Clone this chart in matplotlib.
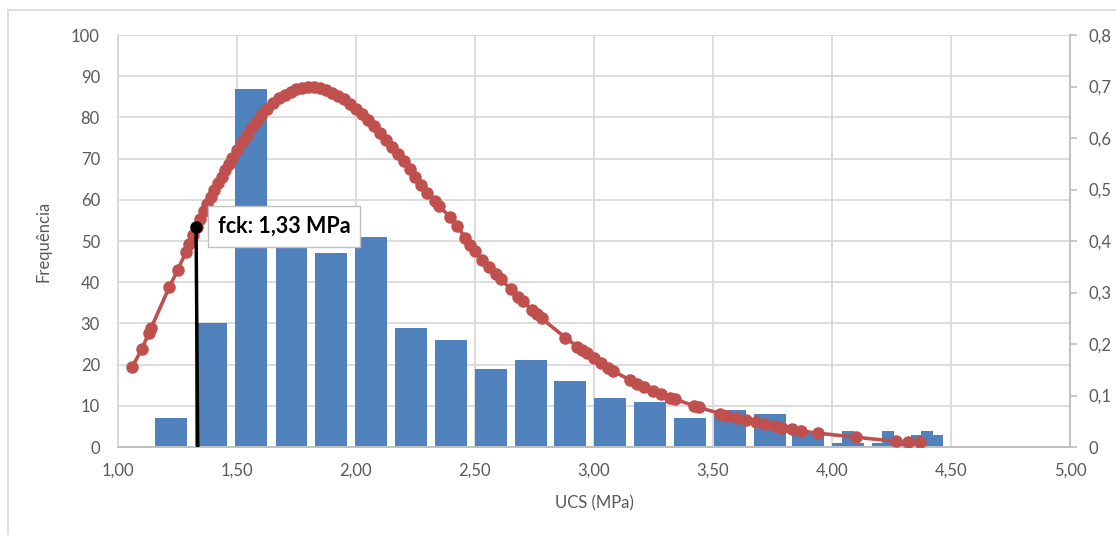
import numpy as np
import matplotlib
matplotlib.use("Agg")
import matplotlib.pyplot as plt
from matplotlib.lines import Line2D

plt.rcParams['font.family'] = ['Lato', 'DejaVu Sans']

# histograma (frequencia por classe de UCS)
bin_centers = [1.223, 1.391, 1.559, 1.729, 1.895, 2.063, 2.231, 2.399, 2.567, 2.735,
               2.901, 3.069, 3.237, 3.405, 3.573, 3.741, 3.901, 4.067, 4.235, 4.400]
freq = [7, 30, 87, 54, 47, 51, 29, 26, 19, 21, 16, 12, 11, 7, 9, 8, 4, 1, 1, 3]
extra_x = [4.068, 4.237, 4.400]
extra_freq = [4, 4, 4]

# densidade de probabilidade (eixo secundario)
pdf_x = [1.060, 1.100, 1.130, 1.140, 1.215, 1.250, 1.285, 1.300, 1.315, 1.330,
         1.345, 1.360, 1.375, 1.390, 1.405, 1.420, 1.435, 1.450, 1.465, 1.480,
         1.500, 1.520, 1.540, 1.560, 1.580, 1.600, 1.625, 1.650, 1.675, 1.700,
         1.725, 1.750, 1.775, 1.800, 1.825, 1.850, 1.875, 1.900, 1.925, 1.950,
         1.975, 2.000, 2.025, 2.050, 2.075, 2.100, 2.125, 2.150, 2.175, 2.200,
         2.225, 2.250, 2.275, 2.300, 2.330, 2.350, 2.395, 2.425, 2.460, 2.480,
         2.500, 2.530, 2.560, 2.590, 2.610, 2.650, 2.680, 2.700, 2.740, 2.760,
         2.780, 2.880, 2.930, 2.950, 2.970, 3.000, 3.030, 3.060, 3.080, 3.150,
         3.180, 3.210, 3.250, 3.280, 3.320, 3.340, 3.420, 3.440, 3.530, 3.560,
         3.600, 3.640, 3.680, 3.720, 3.760, 3.790, 3.830, 3.870, 3.940, 4.100,
         4.270, 4.320, 4.370]
pdf_y = [0.156, 0.190, 0.222, 0.232, 0.310, 0.343, 0.378, 0.395, 0.412, 0.428,
         0.443, 0.458, 0.472, 0.486, 0.499, 0.512, 0.525, 0.538, 0.550, 0.562,
         0.577, 0.592, 0.606, 0.619, 0.632, 0.644, 0.656, 0.667, 0.677, 0.684,
         0.690, 0.695, 0.698, 0.699, 0.699, 0.697, 0.693, 0.688, 0.682, 0.675,
         0.666, 0.657, 0.646, 0.635, 0.623, 0.610, 0.597, 0.583, 0.569, 0.555,
         0.540, 0.524, 0.509, 0.494, 0.477, 0.467, 0.447, 0.430, 0.405, 0.393,
         0.380, 0.364, 0.350, 0.336, 0.326, 0.306, 0.292, 0.283, 0.266, 0.258,
         0.250, 0.212, 0.195, 0.188, 0.182, 0.172, 0.163, 0.154, 0.148, 0.130,
         0.122, 0.116, 0.108, 0.102, 0.096, 0.093, 0.080, 0.077, 0.065, 0.061,
         0.056, 0.052, 0.048, 0.044, 0.040, 0.037, 0.034, 0.031, 0.027, 0.019,
         0.011, 0.010, 0.010]

fck = 1.33
fck_pdf = 0.428

x_ticks = [1.0, 1.5, 2.0, 2.5, 3.0, 3.5, 4.0, 4.5, 5.0]
y_ticks = list(range(0, 101, 10))
y2_ticks = [0, 0.1, 0.2, 0.3, 0.4, 0.5, 0.6, 0.7, 0.8]

grid_col = '#D9D9D9'
txt_col = '#595959'

fig = plt.figure(figsize=(11.16, 5.35), dpi=100)
ax = fig.add_axes([118 / 1116, 1 - 447 / 535, (1070 - 118) / 1116, (447 - 35) / 535])
ax2 = ax.twinx()

ax.bar(bin_centers, freq, width=0.134, color='#4F81BD', zorder=2)
ax.bar(extra_x, extra_freq, width=0.05, color='#4F81BD', zorder=2)

ax.set_xlim(1.0, 5.0)
ax.set_ylim(0, 100)
ax.set_xticks(x_ticks)
ax.set_xticklabels([f"{v:.2f}".replace('.', ',') for v in x_ticks])
ax.set_yticks(y_ticks)
ax.grid(True, color=grid_col, linewidth=1.3, zorder=0)
ax.set_axisbelow(True)
ax.tick_params(axis='both', length=0, labelsize=12, colors=txt_col)
ax.tick_params(axis='x', pad=11)
ax.tick_params(axis='y', pad=13)
ax.set_xlabel("UCS (MPa)", fontsize=12, color=txt_col, labelpad=12)
ax.set_ylabel("Frequência", fontsize=12, color=txt_col, labelpad=14)

ax2.plot(pdf_x, pdf_y, color='#C0504D', linewidth=2.6, marker='o', markersize=8, zorder=3)
ax2.plot([fck + 0.005, fck - 0.002], [0, fck_pdf], color='black', linewidth=2.5, zorder=4)
ax2.plot([fck - 0.002], [fck_pdf], marker='o', color='black', markersize=8, zorder=5)
ax2.text(fck + 0.09, fck_pdf, "fck: 1,33 MPa", fontsize=15.5, fontweight='bold', color='black',
         va='center', ha='left', zorder=6,
         bbox=dict(boxstyle='square,pad=0.45', facecolor='white', edgecolor='#BFBFBF', linewidth=1))
ax2.set_ylim(0, 0.8)
ax2.set_yticks(y2_ticks)
ax2.set_yticklabels(['0'] + [f"{v:.1f}".replace('.', ',') for v in y2_ticks[1:]])
ax2.tick_params(axis='y', length=5, width=1.2, color='#BFBFBF', direction='out',
                labelsize=12, colors=txt_col, pad=8)

for a in (ax, ax2):
    for s in a.spines.values():
        s.set_color(grid_col)
        s.set_linewidth(1.3)
    a.spines['top'].set_visible(False)
ax.spines['bottom'].set_color('#BFBFBF')
ax2.spines['bottom'].set_color('#BFBFBF')
ax2.spines['right'].set_color('#BFBFBF')

# moldura do grafico
fig.add_artist(Line2D([8 / 1116, 8 / 1116, 1.0], [0.0, 1 - 10 / 535, 1 - 10 / 535],
                      transform=fig.transFigure, color=grid_col, linewidth=1.3))

fig.savefig("out.png", dpi=100)
